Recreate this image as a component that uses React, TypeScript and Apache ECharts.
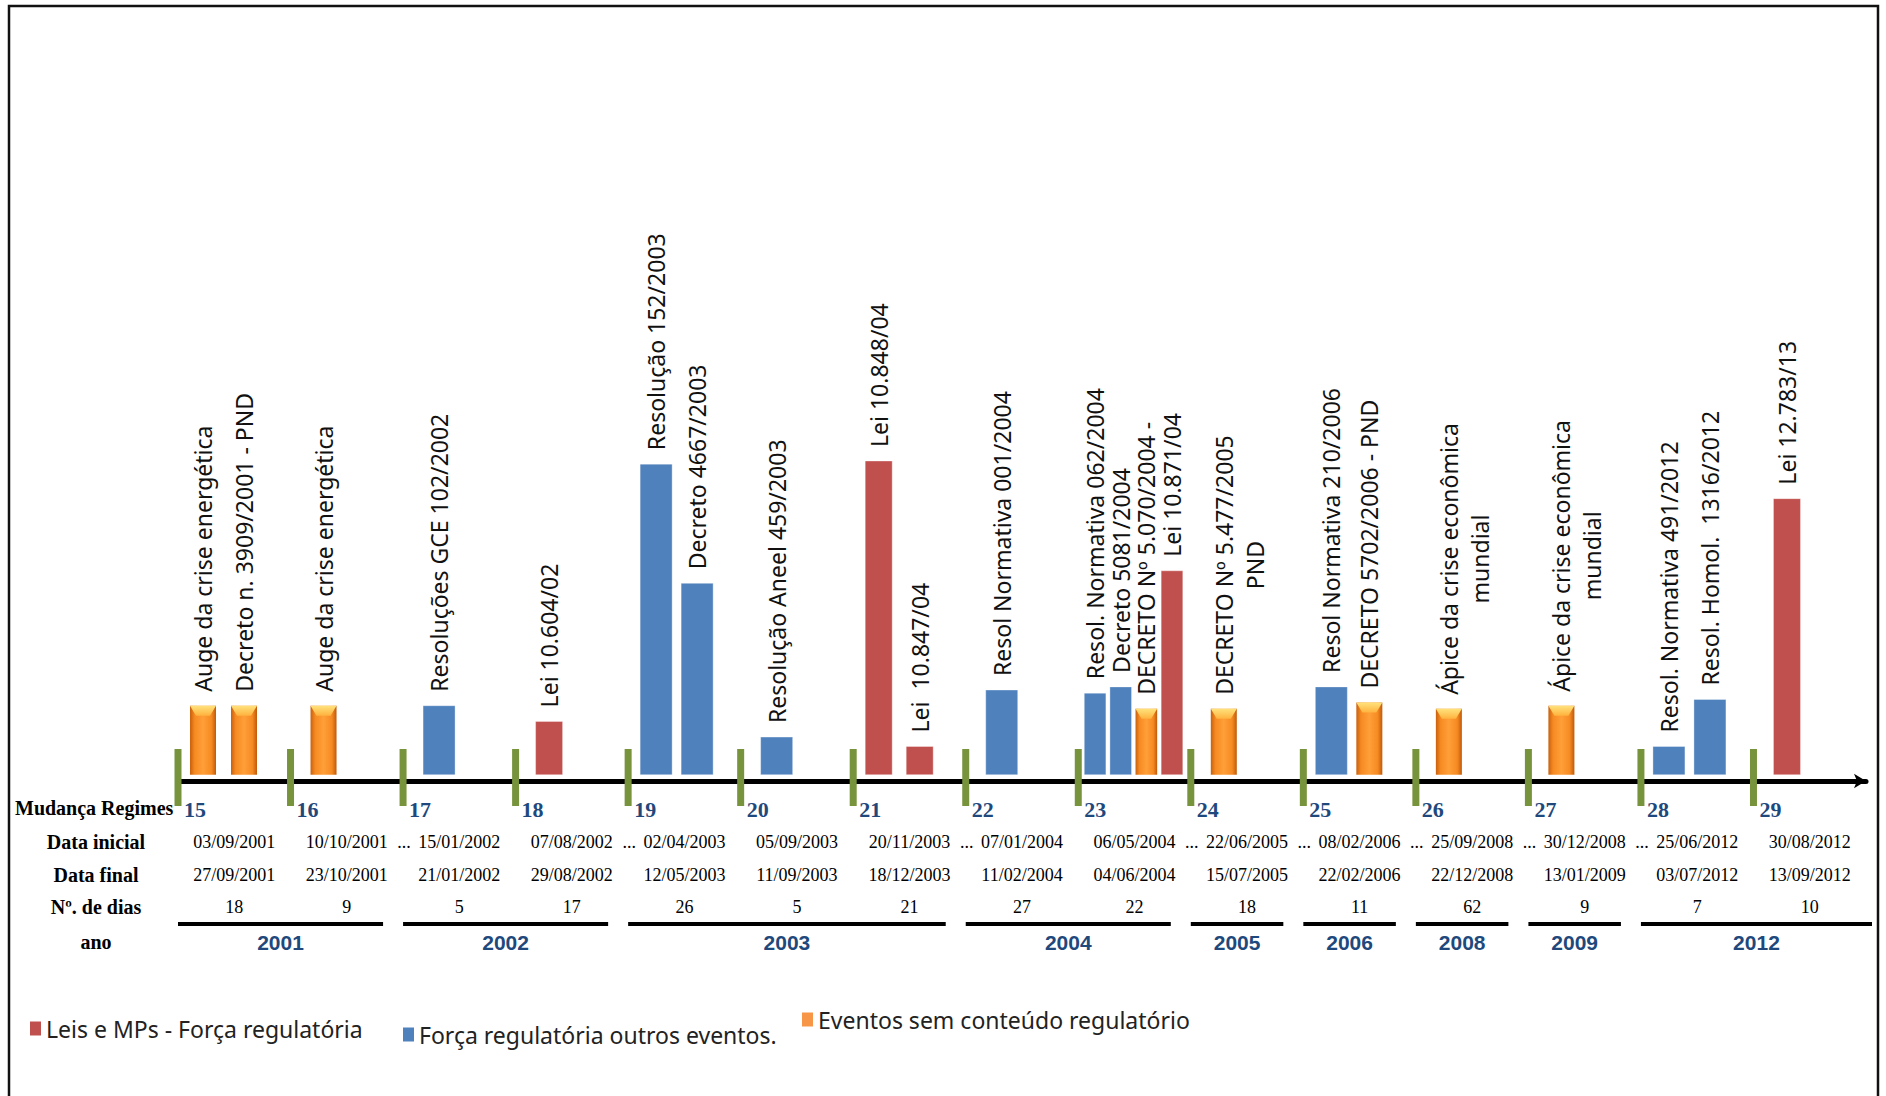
import React, { useEffect, useRef } from "react";
import * as echarts from "echarts";

// ---- Regime table ----
const regimes = ["15", "16", "17", "18", "19", "20", "21", "22", "23", "24", "25", "26", "27", "28", "29"];
const startDates = [
  "03/09/2001", "10/10/2001", "15/01/2002", "07/08/2002", "02/04/2003", "05/09/2003", "20/11/2003",
  "07/01/2004", "06/05/2004", "22/06/2005", "08/02/2006", "25/09/2008", "30/12/2008", "25/06/2012", "30/08/2012",
];
const endDates = [
  "27/09/2001", "23/10/2001", "21/01/2002", "29/08/2002", "12/05/2003", "11/09/2003", "18/12/2003",
  "11/02/2004", "04/06/2004", "15/07/2005", "22/02/2006", "22/12/2008", "13/01/2009", "03/07/2012", "13/09/2012",
];
const dayCounts = ["18", "9", "5", "17", "26", "5", "21", "27", "22", "18", "11", "62", "9", "7", "10"];
// regimes preceded by an interval that is left out ("...")
const gapBefore = [false, false, true, false, true, false, false, true, false, true, true, true, true, true, false];

// ---- Years and the regimes they cover ----
const years = ["2001", "2002", "2003", "2004", "2005", "2006", "2008", "2009", "2012"];
const yearFirstRegime = ["15", "17", "19", "22", "24", "25", "26", "27", "28"];
const yearLastRegime = ["16", "18", "21", "23", "24", "25", "26", "27", "29"];

// ---- Events ----
const eventNames = [
  "Auge da crise energética",
  "Decreto n. 3909/2001 - PND",
  "Auge da crise energética",
  "Resoluções GCE 102/2002",
  "Lei 10.604/02",
  "Resolução 152/2003",
  "Decreto 4667/2003",
  "Resolução Aneel 459/2003",
  "Lei 10.848/04",
  "Lei  10.847/04",
  "Resol Normativa 001/2004",
  "Resol. Normativa 062/2004",
  "Decreto 5081/2004",
  "DECRETO Nº 5.070/2004 -",
  "Lei 10.871/04",
  "DECRETO Nº 5.477/2005\nPND",
  "Resol Normativa 210/2006",
  "DECRETO 5702/2006 - PND",
  "Ápice da crise econômica\nmundial",
  "Ápice da crise econômica\nmundial",
  "Resol. Normativa 491/2012",
  "Resol. Homol.  1316/2012",
  "Lei 12.783/13",
];
const eventRegime = [
  "15", "15", "16", "17", "18", "19", "19", "20", "21", "21", "22", "23",
  "23", "23", "23", "24", "25", "25", "26", "27", "28", "28", "29",
];
const eventKind = [
  "sem", "sem", "sem", "outro", "lei", "outro", "outro", "outro", "lei", "lei", "outro", "outro",
  "outro", "sem", "lei", "sem", "outro", "sem", "sem", "sem", "outro", "outro", "lei",
];
const eventStrength = [22, 22, 22, 22, 17, 99, 61, 12, 100, 9, 27, 26, 28, 21, 65, 21, 28, 23, 21, 22, 9, 24, 88];

const kindOrder = ["lei", "outro", "sem"];
const kindNames: Record<string, string> = {
  lei: "Leis e MPs - Força regulatória",
  outro: "Força regulatória outros eventos.",
  sem: "Eventos sem conteúdo regulatório",
};
const kindColors: Record<string, string> = { lei: "#C0504D", outro: "#4F81BD", sem: "#F79646" };
const kindWidth: Record<string, number> = { lei: 27, outro: 32, sem: 26 };

const LABEL_FONT = '"Noto Sans", "DejaVu Sans", sans-serif';
const LABEL_SIZE = 23;
const SERIF = '"Liberation Serif", "Times New Roman", serif';
const NAVY = "#1F497D";

// slot of each event inside its regime, and how many events share that regime
const slots = eventRegime.map((r, i) => ({
  slot: eventRegime.slice(0, i).filter((x) => x === r).length,
  count: eventRegime.filter((x) => x === r).length,
}));

let measureCtx: CanvasRenderingContext2D | null = null;
function textWidth(s: string, font: string): number {
  if (!measureCtx) measureCtx = document.createElement("canvas").getContext("2d");
  if (!measureCtx) return s.length * 11;
  measureCtx.font = font;
  return measureCtx.measureText(s).width;
}

function makeEventRenderer(kind: string) {
  return (params: any, api: any) => {
    const ri = api.value(0) as number;
    const val = api.value(1) as number;
    const ev = api.value(2) as number;
    const top = api.coord([ri, val]);
    const base = api.coord([ri, 0]);
    const bw = api.size([1, 0])[0];
    const bandStart = top[0] - bw / 2;
    const { slot, count } = slots[ev];
    const pad = count === 1 ? 20 : count === 2 ? 12 : 6;
    const step = count <= 2 ? 41 : (bw - 10) / count;
    const w = Math.min(kindWidth[kind], step - 4);
    const x0 = bandStart + pad + slot * step;
    const cx = x0 + w / 2;
    const y0 = top[1];
    const h = base[1] - top[1];

    const children: any[] = [];
    if (kind === "sem") {
      children.push({
        type: "rect",
        shape: { x: x0, y: y0, width: w, height: h },
        style: {
          fill: new echarts.graphic.LinearGradient(0, 0, 1, 0, [
            { offset: 0, color: "#C9600C" },
            { offset: 0.18, color: "#F68A22" },
            { offset: 0.5, color: "#FF9F38" },
            { offset: 0.82, color: "#F68A22" },
            { offset: 1, color: "#BF5A0A" },
          ]),
        },
      });
      children.push({
        type: "polygon",
        shape: { points: [[x0, y0], [x0 + w, y0], [x0 + w - 6, y0 + 10], [x0 + 6, y0 + 10]] },
        style: {
          fill: new echarts.graphic.LinearGradient(0, 0, 0, 1, [
            { offset: 0, color: "#FFE27C" },
            { offset: 1, color: "#FFB23E" },
          ]),
        },
      });
    } else {
      children.push({
        type: "rect",
        shape: { x: x0, y: y0, width: w, height: h },
        style: { fill: kindColors[kind], stroke: "rgba(255,255,255,0.35)", lineWidth: 1 },
      });
    }

    const text = eventNames[ev];
    const lines = text.split("\n");
    const startY = y0 - 14;
    if (lines.length === 1) {
      children.push({
        type: "text",
        x: cx,
        y: startY,
        rotation: Math.PI / 2,
        style: { text, fill: "#111", fontSize: LABEL_SIZE, fontFamily: LABEL_FONT, align: "left", verticalAlign: "middle" },
      });
    } else {
      const lh = 31;
      const maxW = Math.max(...lines.map((l) => textWidth(l, `${LABEL_SIZE}px ${LABEL_FONT}`)));
      children.push({
        type: "text",
        x: cx + ((lines.length - 1) * lh) / 2,
        y: startY - maxW / 2,
        rotation: Math.PI / 2,
        style: {
          text,
          fill: "#111",
          fontSize: LABEL_SIZE,
          fontFamily: LABEL_FONT,
          align: "center",
          verticalAlign: "middle",
          lineHeight: lh,
        },
      });
    }
    return { type: "group", children };
  };
}

function renderRegime(params: any, api: any) {
  const i = api.value(0) as number;
  const bw = api.size([1, 0])[0];
  const xs = api.coord([i, 0])[0] - bw / 2;
  const axisY = params.coordSys.y + params.coordSys.height;
  const children: any[] = [
    {
      type: "rect",
      shape: { x: xs - 3.5, y: axisY - 32, width: 7, height: 57 },
      style: { fill: "#77933C" },
    },
    {
      type: "text",
      x: xs + 6,
      y: axisY + 28,
      style: {
        text: regimes[i],
        fill: NAVY,
        fontSize: 22,
        fontWeight: "bold",
        fontFamily: SERIF,
        align: "left",
        verticalAlign: "middle",
      },
    },
  ];
  if (gapBefore[i]) {
    children.push({
      type: "text",
      x: xs + 1,
      y: axisY + 61,
      style: { text: "...", fill: "#000", fontSize: 18, fontFamily: SERIF, align: "center", verticalAlign: "middle" },
    });
  }
  return { type: "group", children };
}

function renderYear(params: any, api: any) {
  const first = api.value(0) as number;
  const last = api.value(2) as number;
  const k = api.value(3) as number;
  const bw = api.size([1, 0])[0];
  const axisY = params.coordSys.y + params.coordSys.height;
  const xs = api.coord([first, 0])[0] - bw / 2;
  const isLast = last === regimes.length - 1;
  const xe = api.coord([last, 0])[0] + bw / 2 + (isLast ? 6 : -20);
  return {
    type: "group",
    children: [
      {
        type: "rect",
        shape: { x: xs, y: axisY + 141, width: xe - xs, height: 4 },
        style: { fill: "#000" },
      },
      {
        type: "text",
        x: (xs + xe) / 2,
        y: axisY + 161,
        style: {
          text: years[k],
          fill: NAVY,
          fontSize: 21,
          fontWeight: "bold",
          fontFamily: '"Liberation Sans", Arial, sans-serif',
          align: "center",
          verticalAlign: "middle",
        },
      },
    ],
  };
}

function rowAxis(data: string[], offset: number) {
  return {
    type: "category",
    data,
    position: "bottom",
    offset,
    boundaryGap: true,
    axisLine: { show: false, onZero: false },
    axisTick: { show: false },
    splitLine: { show: false },
    axisLabel: {
      interval: 0,
      margin: 0,
      verticalAlign: "middle",
      fontFamily: SERIF,
      fontSize: 18,
      color: "#000",
    },
  };
}

export default function App() {
  const ref = useRef<HTMLDivElement>(null);

  useEffect(() => {
    if (!ref.current) return;
    const chart = echarts.init(ref.current, undefined, { renderer: "svg" });

    const eventSeries = kindOrder.map((kind) => ({
      type: "custom",
      name: kindNames[kind],
      xAxisIndex: 0,
      yAxisIndex: 0,
      clip: false,
      itemStyle: { color: kindColors[kind] },
      encode: { x: 0, y: 1 },
      data: eventNames
        .map((_, i) => i)
        .filter((i) => eventKind[i] === kind)
        .map((i) => [regimes.indexOf(eventRegime[i]), eventStrength[i], i]),
      renderItem: makeEventRenderer(kind),
      z: 3,
    }));

    const rowLabel = (text: string, x: number, y: number, align: string) => ({
      type: "text",
      x,
      y,
      style: {
        text,
        fill: "#000",
        fontSize: 20,
        fontWeight: "bold",
        fontFamily: SERIF,
        align,
        verticalAlign: "middle",
      },
    });

    const legendBase = {
      orient: "horizontal",
      selectedMode: false,
      padding: 0,
      icon: "rect",
      itemWidth: 11,
      itemHeight: 14,
      textStyle: { fontSize: 23, fontFamily: LABEL_FONT, color: "#222" },
    };

    chart.setOption({
      animation: false,
      backgroundColor: "#ffffff",
      grid: { left: 178, right: 20, top: 461, bottom: 315, containLabel: false, outerBoundsMode: "none" },
      xAxis: [
        {
          type: "category",
          data: regimes,
          boundaryGap: true,
          axisLine: {
            show: true,
            onZero: false,
            lineStyle: { color: "#000", width: 5 },
            symbol: ["none", "arrow"],
            symbolSize: [11, 12],
          },
          axisTick: { show: false },
          axisLabel: { show: false },
          splitLine: { show: false },
        },
        rowAxis(startDates, 61),
        rowAxis(endDates, 94),
        rowAxis(dayCounts, 126),
      ],
      yAxis: { type: "value", min: -2, max: 100, show: false },
      legend: [
        { ...legendBase, data: [kindNames.lei], left: 30, top: 1017 },
        { ...legendBase, data: [kindNames.outro], left: 403, top: 1023 },
        { ...legendBase, data: [kindNames.sem], left: 802, top: 1008 },
      ],
      graphic: [
        {
          type: "polyline",
          shape: { points: [[9, 1100], [9, 6], [1878, 6], [1878, 1100]] },
          style: { stroke: "#111", lineWidth: 2.5, fill: null },
        },
        rowLabel("Mudança Regimes", 15, 808, "left"),
        rowLabel("Data inicial", 96, 842, "center"),
        rowLabel("Data final", 96, 875, "center"),
        rowLabel("Nº. de dias", 96, 907, "center"),
        rowLabel("ano", 96, 942, "center"),
      ],
      series: [
        ...eventSeries,
        {
          type: "custom",
          name: "regimes",
          xAxisIndex: 0,
          yAxisIndex: 0,
          clip: false,
          silent: true,
          encode: { x: 0, y: 1 },
          data: regimes.map((_, i) => [i, 0]),
          renderItem: renderRegime,
          z: 4,
        },
        {
          type: "custom",
          name: "anos",
          xAxisIndex: 0,
          yAxisIndex: 0,
          clip: false,
          silent: true,
          encode: { x: 0, y: 1 },
          data: years.map((_, k) => [regimes.indexOf(yearFirstRegime[k]), 0, regimes.indexOf(yearLastRegime[k]), k]),
          renderItem: renderYear,
          z: 4,
        },
      ],
    });

    return () => chart.dispose();
  }, []);

  return (
    <div
      ref={ref}
      style={{ position: "fixed", left: 0, top: 0, width: 1886, height: 1096, background: "#fff" }}
    />
  );
}
